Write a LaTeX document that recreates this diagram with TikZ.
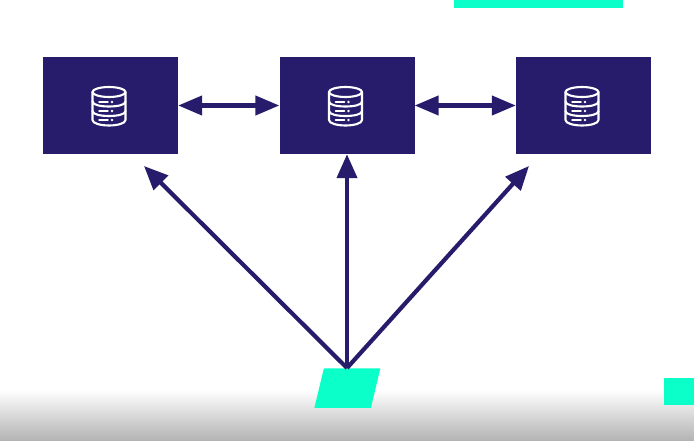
\documentclass[tikz,border=0pt]{standalone}
\usetikzlibrary{arrows.meta}
\definecolor{navy}{HTML}{261C6B}
\definecolor{mint}{HTML}{0BFFC8}
\tikzset{
  x=1pt,y=-1pt,
  dbbox/.style={fill=navy,draw=none,inner sep=0pt,minimum width=135pt,minimum height=97pt},
  mintshape/.style={fill=mint,draw=none,inner sep=0pt},
  link/.style={draw=navy,line width=4.2pt,{Triangle[length=24pt,width=19pt]}-{Triangle[length=24pt,width=19pt]}},
  feed/.style={draw=navy,line width=4.2pt,-{Triangle[length=24pt,width=20pt]}},
  dbicon/.pic={
    \begin{scope}[draw=white,line width=2.1pt,line cap=round,line join=round]
      \draw (0,-14) ellipse [x radius=16.5pt,y radius=5pt];
      \draw (-16.5,-14) -- (-16.5,14) .. controls (-16.5,17.5) and (-8,19.5) .. (0,19.5) .. controls (8,19.5) and (16.5,17.5) .. (16.5,14) -- (16.5,-14);
      \foreach \yy in {-4.5,5} {
        \draw (-16.5,\yy) .. controls (-16.5,\yy+3.5) and (-8,\yy+5) .. (0,\yy+5) .. controls (8,\yy+5) and (16.5,\yy+3.5) .. (16.5,\yy);
      }
      \foreach \yy in {-4,5,14} {
        \draw[line width=1.5pt] (-10,\yy) -- (-1,\yy);
        \fill[white] (3,\yy) circle (1.4pt);
      }
    \end{scope}
  }
}
\begin{document}
\begin{tikzpicture}
\useasboundingbox (0,0) rectangle (694,441);
\fill[white] (0,0) rectangle (694,441);
\shade[top color=white,bottom color=black!30,draw=none] (0,390) rectangle (694,441);
\node[mintshape,minimum width=169pt,minimum height=8pt] (topbar) at (538.5,4) {};
\node[mintshape,minimum width=30pt,minimum height=27pt] (sidebar) at (679,391.5) {};
\node[mintshape,minimum width=56.5pt,minimum height=39.5pt,xslant=0.24] (sw) at (347.4,388) {};
\node[dbbox] (db1) at (110.5,105.5) {};
\node[dbbox] (db2) at (347,105.5) {};
\node[dbbox] (db3) at (583.5,105.5) {};
\pic at (109,106) {dbicon};
\pic at (345.5,106) {dbicon};
\pic at (582,106) {dbicon};
\coordinate (src) at (347,368);
\coordinate (t1) at (144,166);
\coordinate (t3) at (529,166);
\draw[link] (db1.east) -- (db2.west);
\draw[link] (db2.east) -- (db3.west);
\draw[feed] (src) -- (t1);
\draw[feed] (src) -- (db2.south);
\draw[feed] (src) -- (t3);
\end{tikzpicture}
\end{document}
